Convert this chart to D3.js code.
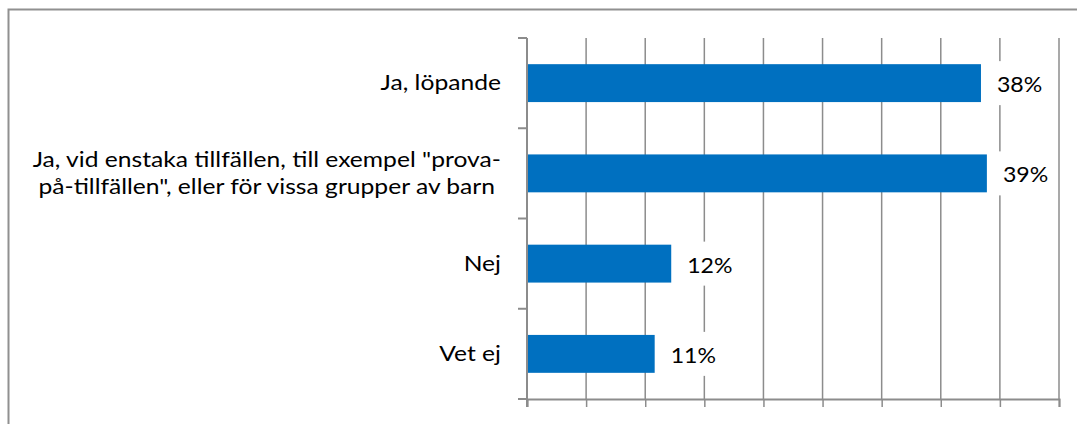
<!DOCTYPE html>
<html>
<head>
<meta charset="utf-8">
<script src="https://cdn.jsdelivr.net/npm/d3@7"></script>
<style>
  body { margin: 0; background: #fff; }
  svg { display: block; font-family: Lato, "Open Sans", sans-serif; }
</style>
</head>
<body>
<svg id="chart" width="1077" height="424"></svg>
<script>
// answers and their shares (percent)
var categories = [
  ["Ja, löpande"],
  ["Ja, vid enstaka tillfällen, till exempel \"prova-", "på-tillfällen\", eller för vissa grupper av barn"],
  ["Nej"],
  ["Vet ej"]
];
var values = [38.4, 38.9, 12.2, 10.8];
var valueLabels = ["38%", "39%", "12%", "11%"];
var xTicks = [0, 5, 10, 15, 20, 25, 30, 35, 40, 45];

var svg = d3.select("#chart");
var margin = {left: 527, top: 38, bottom: 399};
var stretch = 1.12; // the original picture is a bit wider than the fonts

// chart frame
svg.append("rect")
    .attr("x", 8.5).attr("y", 9.5)
    .attr("width", 1100).attr("height", 500)
    .attr("fill", "none").attr("stroke", "#909090").attr("stroke-width", 2);

var x = d3.scaleLinear().domain([0, 45]).range([margin.left, 1059]);
var y = d3.scaleBand().domain(d3.range(categories.length))
    .range([margin.top, margin.bottom]).paddingInner(0.58).paddingOuter(0.29);
var yEdge = d3.scaleLinear().domain([0, categories.length]).range([margin.top, margin.bottom]);

// vertical grid
svg.append("g").selectAll("line").data(xTicks.slice(1)).enter().append("line")
    .attr("x1", d => x(d)).attr("x2", d => x(d))
    .attr("y1", margin.top).attr("y2", margin.bottom)
    .attr("stroke", "#8c8c8c").attr("stroke-width", 1.5);

// bottom axis
var xAxis = svg.append("g").attr("transform", "translate(0," + margin.bottom + ")")
    .call(d3.axisBottom(x).tickValues(xTicks).tickSize(8).tickFormat(""));
xAxis.select(".domain").attr("stroke", "#8c8c8c").attr("stroke-width", 2);
xAxis.selectAll(".tick line").attr("stroke", "#8c8c8c").attr("stroke-width", 1.5);

// left axis with ticks at band edges
svg.append("line")
    .attr("x1", margin.left).attr("x2", margin.left)
    .attr("y1", margin.top).attr("y2", margin.bottom + 8)
    .attr("stroke", "#8c8c8c").attr("stroke-width", 2);
svg.append("g").selectAll("line").data(d3.range(categories.length + 1)).enter().append("line")
    .attr("x1", margin.left - 9).attr("x2", margin.left)
    .attr("y1", d => yEdge(d)).attr("y2", d => yEdge(d))
    .attr("stroke", "#8c8c8c").attr("stroke-width", 2);

// bars
svg.append("g").selectAll("rect").data(values).enter().append("rect")
    .attr("x", x(0) + 1)
    .attr("y", (d, i) => y(i))
    .attr("width", d => x(d) - x(0) - 1)
    .attr("height", y.bandwidth())
    .attr("fill", "#0070c0");

// value labels with white boxes
var lab = svg.append("g").selectAll("g").data(values).enter().append("g")
    .attr("transform", (d, i) => "translate(" + (x(d) + 16) + "," + (y(i) + y.bandwidth() / 2) + ")");
lab.append("rect")
    .attr("x", -7).attr("y", -22).attr("width", 58).attr("height", 44)
    .attr("fill", "#fff");
lab.append("text")
    .attr("y", 9)
    .attr("transform", "scale(1.1,1)")
    .attr("font-size", 21).attr("fill", "#000")
    .text((d, i) => valueLabels[i]);

// category labels, wrapped lines centred on each other, block right-aligned
var labelRight = 501;
var cat = svg.append("g").selectAll("g").data(categories).enter().append("g")
    .attr("transform", (d, i) => "translate(" + labelRight + "," + (y(i) + y.bandwidth() / 2) + ")");
cat.each(function(lines) {
  var g = d3.select(this);
  var t = g.append("text")
      .attr("font-size", 22).attr("fill", "#000")
      .attr("text-anchor", "middle");
  var spans = t.selectAll("tspan").data(lines).enter().append("tspan")
      .attr("x", 0)
      .attr("y", (s, j) => 7 + (j - (lines.length - 1) / 2) * 27)
      .text(s => s);
  var maxW = d3.max(spans.nodes(), n => n.getComputedTextLength()) * stretch;
  t.attr("transform", "translate(" + (-maxW / 2) + ",0) scale(" + stretch + ",1)");
});
</script>
</body>
</html>
